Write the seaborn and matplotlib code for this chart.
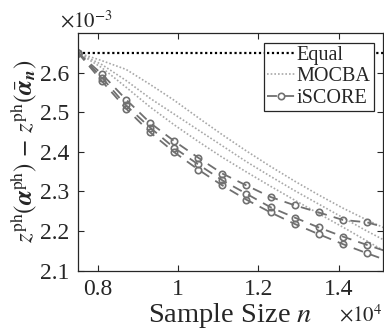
import matplotlib
matplotlib.use('Agg')
import matplotlib.pyplot as plt
import numpy as np
import pandas as pd
import seaborn as sns

# sample size (x 1e4) and objective gap (x 1e-3)
sample_size = [0.75, 0.81, 0.87, 0.93, 0.99, 1.05, 1.11, 1.17, 1.23, 1.29, 1.35, 1.41, 1.47, 1.53]

equal_gap = [2.65] * 14

mocba_1 = [2.650, 2.630, 2.608, 2.570, 2.530, 2.486, 2.443, 2.402, 2.363, 2.326, 2.291, 2.258, 2.228, 2.200]
mocba_2 = [2.650, 2.620, 2.580, 2.535, 2.495, 2.455, 2.415, 2.375, 2.338, 2.302, 2.268, 2.234, 2.200, 2.168]
mocba_3 = [2.650, 2.612, 2.563, 2.513, 2.468, 2.426, 2.386, 2.349, 2.313, 2.278, 2.244, 2.210, 2.175, 2.140]

iscore_1 = [2.650, 2.596, 2.532, 2.473, 2.427, 2.385, 2.345, 2.315, 2.286, 2.265, 2.247, 2.228, 2.222, 2.205]
iscore_2 = [2.650, 2.587, 2.517, 2.461, 2.410, 2.368, 2.328, 2.294, 2.260, 2.234, 2.209, 2.186, 2.165, 2.145]
iscore_3 = [2.650, 2.578, 2.509, 2.449, 2.399, 2.355, 2.315, 2.279, 2.247, 2.218, 2.192, 2.167, 2.144, 2.122]

x_ticks = [0.8, 1, 1.2, 1.4]
y_ticks = [2.1, 2.2, 2.3, 2.4, 2.5, 2.6]

sns.set_theme(style='ticks')
plt.rcParams['font.family'] = ['Liberation Serif', 'DejaVu Serif']
plt.rcParams['mathtext.fontset'] = 'stix'

fig = plt.figure(figsize=(3.84, 3.30), dpi=100)
ax = fig.add_axes([0.203, 0.18, 0.794, 0.72])

sns.lineplot(x=sample_size, y=equal_gap, ax=ax, color='black',
             linestyle=(0, (1, 1.2)), linewidth=1.6, label='Equal')

for i, vals in enumerate([mocba_1, mocba_2, mocba_3]):
    sns.lineplot(x=sample_size, y=vals, ax=ax, color='#a8a8a8',
                 linestyle=(0, (1, 1.2)), linewidth=1.2,
                 label='MOCBA' if i == 0 else '_nolegend_')

for i, vals in enumerate([iscore_1, iscore_2, iscore_3]):
    sns.lineplot(x=sample_size, y=vals, ax=ax, color='#707070',
                 linestyle=(0, (5.5, 4)), linewidth=1.3,
                 marker='o', markersize=4.6, markerfacecolor='none',
                 markeredgecolor='#707070', markeredgewidth=1.2,
                 label='iSCORE' if i == 0 else '_nolegend_')

ax.set_xlim(0.75, 1.51)
ax.set_ylim(2.1, 2.7)
ax.set_xticks(x_ticks)
ax.set_yticks(y_ticks)
ax.set_xticklabels(['%g' % t for t in x_ticks])
ax.set_yticklabels(['%g' % t for t in y_ticks])
ax.tick_params(direction='in', length=4, width=0.8, top=True, right=True,
               labelsize=17, color='#262626', pad=6)
for s in ax.spines.values():
    s.set_linewidth(0.9)
    s.set_color('#262626')

ax.set_xlabel(r'Sample Size $n$', fontsize=20.5, labelpad=1)
ax.set_ylabel(r'$z^{\rm ph}(\boldsymbol{\alpha}^{\rm ph})\,-\,z^{\rm ph}(\bar{\boldsymbol{\alpha}}_{\boldsymbol{n}})$',
              fontsize=18, labelpad=1)

ax.text(-0.06, 1.005, r'$\times10^{-3}$', transform=ax.transAxes,
        ha='left', va='bottom', fontsize=15)
ax.text(1.0, -0.145, r'$\times10^{4}$', transform=ax.transAxes,
        ha='right', va='top', fontsize=15)

leg = ax.legend(loc='upper right', bbox_to_anchor=(0.97, 0.96), fontsize=14.5,
                frameon=True, fancybox=False, framealpha=1, edgecolor='#262626',
                handlelength=1.4, handletextpad=0.1, labelspacing=0.12,
                borderpad=0.15, borderaxespad=0)
leg.get_frame().set_linewidth(0.9)

fig.savefig('out.png', dpi=100)
